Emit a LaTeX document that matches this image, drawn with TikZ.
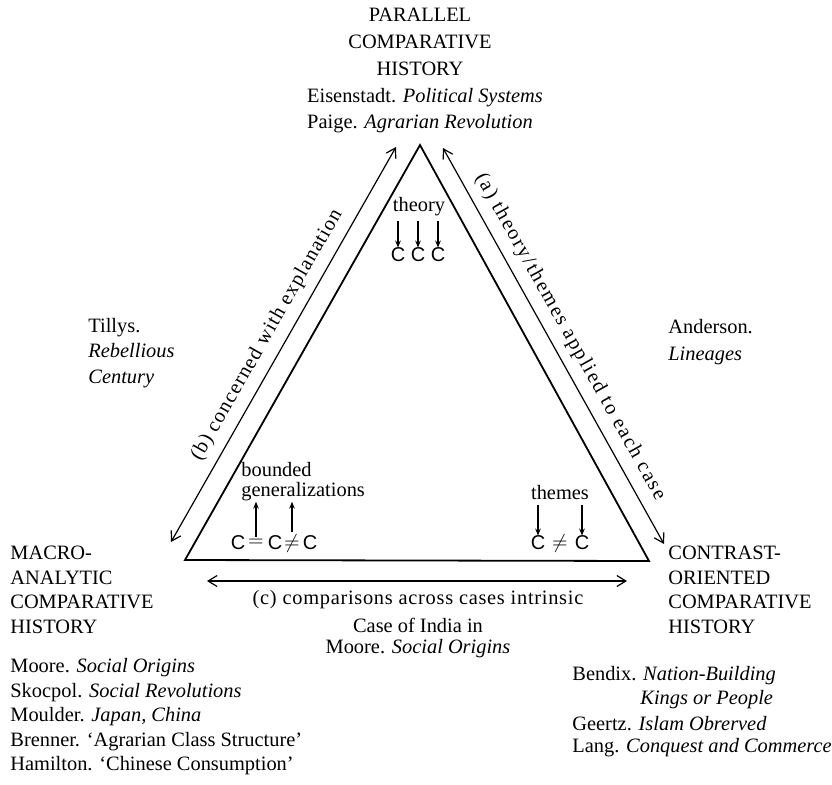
\documentclass[tikz,border=0pt]{standalone}
\usepackage{fontspec}
\setmainfont{Liberation Serif}
\setsansfont{Liberation Sans}
\usetikzlibrary{arrows.meta}
\begin{document}
\begin{tikzpicture}[x=0.5pt,y=-0.5pt,
  font=\fontsize{10.2}{12.25}\selectfont,
  tri/.style={line width=0.9pt, line join=miter},
  dbl/.style={line width=0.6pt, {Straight Barb[length=4.5pt,width=5.5pt]}-{Straight Barb[length=4.5pt,width=5.5pt]}},
  small/.style={line width=0.6pt, -{Stealth[length=3.5pt,width=2.8pt]}},
  lbl/.style={inner sep=0pt, align=center},
  lft/.style={inner sep=0pt, align=left, anchor=west},
  cc/.style={inner sep=0pt, font=\sffamily\fontsize{10}{12}\selectfont},
  slab/.style={inner sep=4.5pt, anchor=south}]
\useasboundingbox (0,0) rectangle (832,784);
% top label
\node[lbl, font=\fontsize{10.2}{13.5}\selectfont] (par) at (420,42) {PARALLEL\\COMPARATIVE\\HISTORY};
\node[lbl] (eis) at (425,98) {Eisenstadt. \textit{Political Systems}};
\node[lbl] (pai) at (420,124) {Paige. \textit{Agrarian Revolution}};
% triangle
\coordinate (A) at (420,145);
\coordinate (L) at (185,560);
\coordinate (R) at (649,561);
\draw[tri] (A) -- (L) -- (R) -- cycle;
% side arrows
\coordinate (b1) at (171,542);
\coordinate (b2) at (396,147);
\draw[dbl] (b1) -- (b2) node[slab, midway, rotate=60.3, font=\fontsize{10.2}{12.25}\selectfont\addfontfeature{LetterSpace=6}] (blab) {(b) concerned with explanation};
\coordinate (a1) at (443,148);
\coordinate (a2) at (664,544);
\draw[dbl] (a1) -- (a2) node[slab, midway, rotate=-60.8, font=\fontsize{10.2}{12.25}\selectfont\addfontfeature{LetterSpace=9}] (alab) {(a) theory/themes applied to each case};
\coordinate (c1) at (207,581);
\coordinate (c2) at (627,581);
\draw[dbl] (c1) -- (c2);
\node[lbl, font=\fontsize{10.2}{12.25}\selectfont\addfontfeature{LetterSpace=3.5}] (clab) at (418,600) {(c) comparisons across cases intrinsic};
\node[lbl] (case) at (418,625) {Case of India in};
\node[lbl] (moc) at (418,649) {Moore. \textit{Social Origins}};
% theory
\node[lbl] (theory) at (419,207) {theory};
\node[cc] (t1) at (398,255) {C};
\node[cc] (t2) at (418,255) {C};
\node[cc] (t3) at (438,255) {C};
\foreach \n in {t1,t2,t3} \draw[small] (\n|-theory.south) ++(0,4) -- (\n.north);
% bounded generalizations
\node[lft] (bnd) at (241,470) {bounded};
\node[lft] (gen) at (241,492) {generalizations};
\node[cc] (g1) at (238,543) {C};
\node[cc] (ge) at (256,543) {$=$};
\node[cc] (g2) at (275,543) {C};
\node[cc] (gn) at (292,543) {$\neq$};
\node[cc] (g3) at (310,543) {C};
\draw[small] (ge.north) ++(0,-2) -- (ge|-gen.south);
\draw[small] (gn.north) ++(0,-2) -- (gn|-gen.south);
% themes
\node[lbl] (them) at (560,493) {themes};
\node[cc] (h1) at (538,543) {C};
\node[cc] (hn) at (560,543) {$\neq$};
\node[cc] (h2) at (582,543) {C};
\draw[small] (h1|-them.south) ++(0,4) -- (h1.north);
\draw[small] (h2|-them.south) ++(0,4) -- (h2.north);
% corner labels
\node[lft] (mac) at (10,590) {MACRO-\\ANALYTIC\\COMPARATIVE\\HISTORY};
\node[lft] (con) at (668,590) {CONTRAST-\\ORIENTED\\COMPARATIVE\\HISTORY};
% side authors
\node[lft, font=\fontsize{10.2}{12.75}\selectfont] (til) at (88,353) {Tillys.\\\textit{Rebellious}\\\textit{Century}};
\node[lft, font=\fontsize{10.2}{13.5}\selectfont] (and) at (668,342) {Anderson.\\\textit{Lineages}};
% bottom lists
\node[lft] (bl) at (10,717) {Moore. \textit{Social Origins}\\Skocpol. \textit{Social Revolutions}\\Moulder. \textit{Japan, China}\\Brenner. `Agrarian Class Structure'\\Hamilton. `Chinese Consumption'};
\node[lft] (bd) at (572,676) {Bendix. \textit{Nation-Building}};
\node[lft] (kp) at (640,700) {\textit{Kings or People}};
\node[lft] (gz) at (572,724) {Geertz. \textit{Islam Obrerved}};
\node[lft] (lg) at (572,748) {Lang. \textit{Conquest and Commerce}};
\end{tikzpicture}
\end{document}
